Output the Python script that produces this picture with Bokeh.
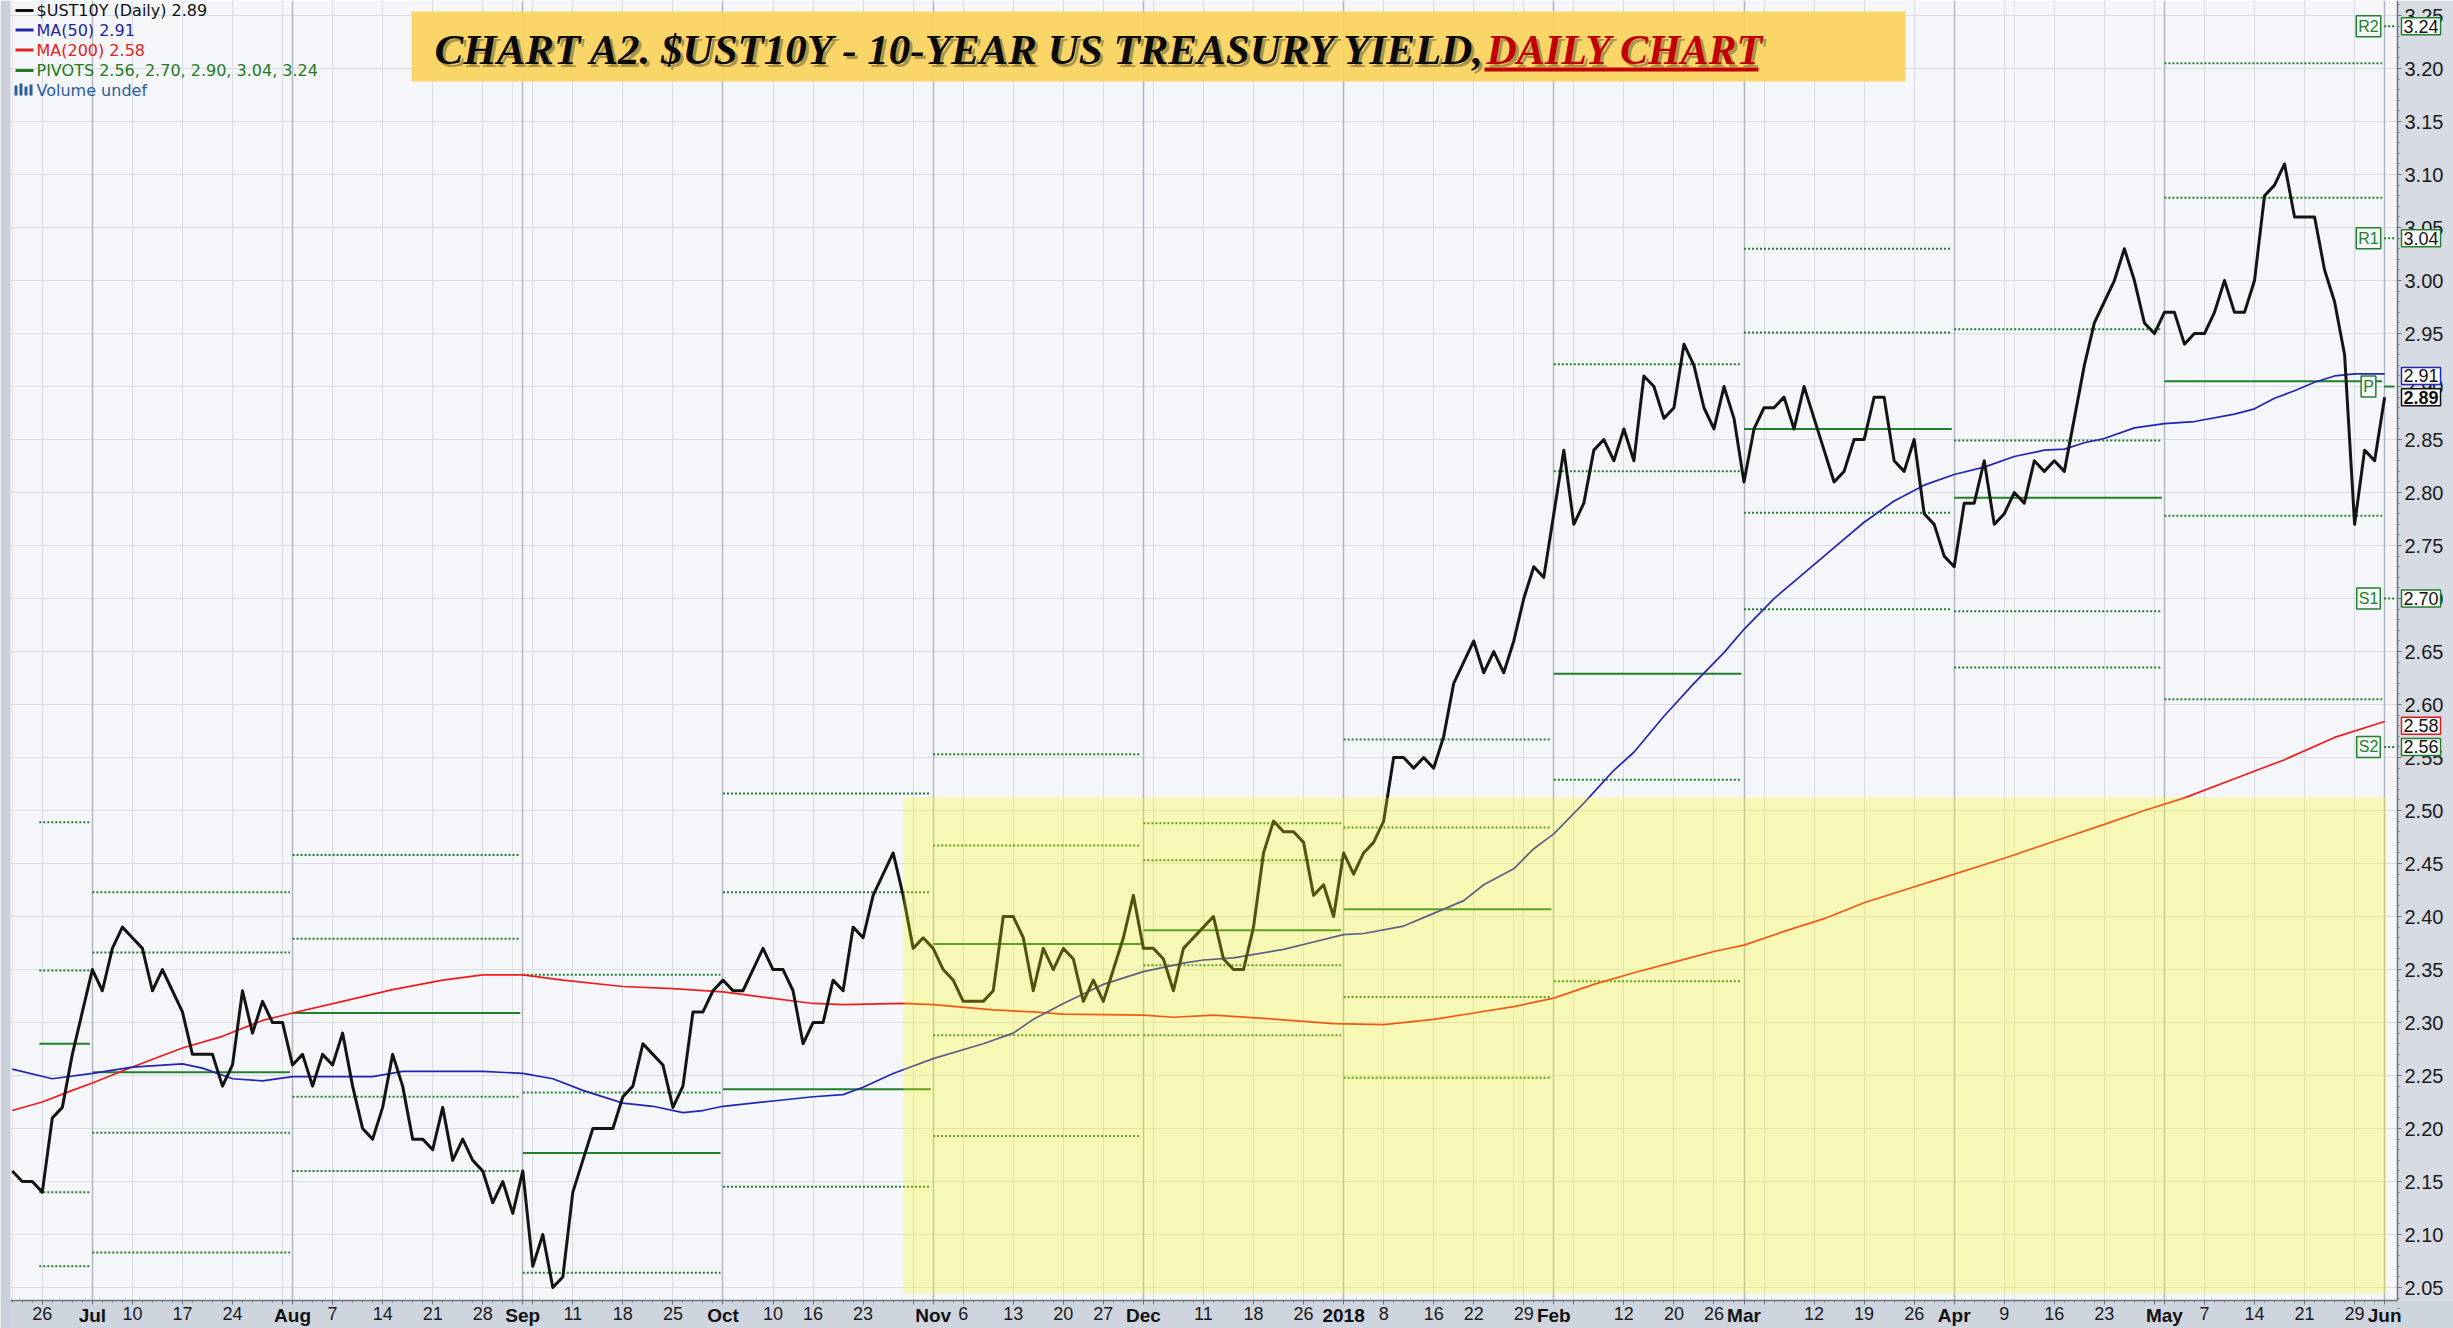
import numpy as np
import pandas as pd
from bokeh.plotting import figure
from bokeh.models import (Range1d, FixedTicker, Label, BoxAnnotation, Grid, LinearAxis,
                          PrintfTickFormatter)
from bokeh.embed import file_html
from bokeh.resources import INLINE

# ---------------- data ----------------
FIRST_SESSION = "2017-06-21"
LAST_SESSION = "2018-06-01"
MARKET_HOLIDAYS = ["2017-07-04", "2017-09-04", "2017-10-09", "2017-11-23", "2017-12-25",
                   "2018-01-01", "2018-01-15", "2018-02-19", "2018-03-30", "2018-05-28"]

# daily close of $UST10Y, one value per session
YIELD_10Y = [
    2.16, 2.15, 2.15,
    2.14, 2.21, 2.22, 2.27, 2.31, 2.35, 2.33, 2.37, 2.39, 2.38,
    2.37, 2.33, 2.35, 2.33, 2.31, 2.27, 2.27, 2.27, 2.24, 2.26,
    2.33, 2.29, 2.32, 2.30, 2.30, 2.26, 2.27, 2.24, 2.27, 2.26,
    2.29, 2.24, 2.20, 2.19, 2.22, 2.27, 2.24, 2.19, 2.19, 2.18,
    2.22, 2.17, 2.19, 2.17, 2.16, 2.13, 2.15, 2.12, 2.16, 2.07,
    2.10, 2.05, 2.06, 2.14, 2.17, 2.20, 2.20, 2.20, 2.23, 2.24,
    2.28, 2.27, 2.26, 2.22, 2.24, 2.31, 2.31, 2.33, 2.34, 2.33,
    2.33, 2.35, 2.37, 2.35, 2.35, 2.33, 2.28, 2.30, 2.30, 2.34,
    2.33, 2.39, 2.38, 2.42, 2.44, 2.46, 2.42, 2.37, 2.38, 2.37,
    2.35, 2.34, 2.32, 2.32, 2.32, 2.33, 2.40, 2.40, 2.38, 2.33,
    2.37, 2.35, 2.37, 2.36, 2.32, 2.34, 2.32, 2.35, 2.38, 2.42,
    2.37, 2.37, 2.36, 2.33, 2.37, 2.38, 2.39, 2.40, 2.36, 2.35,
    2.35, 2.39, 2.46, 2.49, 2.48, 2.48, 2.47, 2.42, 2.43, 2.40,
    2.46, 2.44, 2.46, 2.47, 2.49, 2.55, 2.55, 2.54, 2.55, 2.54,
    2.57, 2.62, 2.64, 2.66, 2.63, 2.65, 2.63, 2.66, 2.70, 2.73,
    2.72, 2.78, 2.84, 2.77, 2.79, 2.84, 2.85, 2.83, 2.86, 2.83,
    2.91, 2.90, 2.87, 2.88, 2.94, 2.92, 2.88, 2.86, 2.90, 2.87,
    2.81, 2.86, 2.88, 2.88, 2.89, 2.86, 2.90, 2.87, 2.84, 2.81,
    2.82, 2.85, 2.85, 2.89, 2.89, 2.83, 2.82, 2.85, 2.78, 2.77,
    2.74, 2.73, 2.79, 2.79, 2.83, 2.77, 2.78, 2.80, 2.79, 2.83,
    2.82, 2.83, 2.82, 2.87, 2.92, 2.96, 2.98, 3.00, 3.03, 3.00,
    2.96, 2.95, 2.97, 2.97, 2.94, 2.95, 2.95, 2.97, 3.00, 2.97,
    2.97, 3.00, 3.08, 3.09, 3.11, 3.06, 3.06, 3.06, 3.01, 2.98,
    2.93, 2.77, 2.84, 2.83, 2.89,
]

# moving averages (session number, value)
MA50_SESSION = [0, 4, 8, 12, 17, 19, 22, 25, 28, 32, 36, 39, 42, 47, 51, 54, 57, 61, 64, 67,
                69, 71, 76, 80, 83, 85, 88, 92, 97, 100, 102, 105, 107, 109, 113, 117, 119, 122, 127, 130,
                133, 135, 139, 142, 145, 147, 150, 152, 154, 157, 160, 162, 165, 168, 171, 173, 176, 179, 182, 185,
                188, 191, 194, 197, 200, 203, 205, 207, 209, 212, 215, 218, 222, 224, 226, 228, 230, 232, 234, 237]
MA50_VALUE = [2.256, 2.247, 2.252, 2.258, 2.261, 2.257, 2.247, 2.245, 2.249, 2.249,
              2.249, 2.254, 2.254, 2.254, 2.252, 2.247, 2.236, 2.224, 2.221, 2.215,
              2.217, 2.221, 2.226, 2.230, 2.232, 2.239, 2.252, 2.266, 2.280, 2.290,
              2.303, 2.318, 2.327, 2.336, 2.348, 2.356, 2.359, 2.361, 2.369, 2.376,
              2.383, 2.384, 2.391, 2.403, 2.415, 2.430, 2.445, 2.464, 2.478, 2.507,
              2.538, 2.555, 2.589, 2.620, 2.649, 2.671, 2.700, 2.724, 2.748, 2.772,
              2.792, 2.807, 2.817, 2.824, 2.834, 2.840, 2.841, 2.847, 2.851, 2.861,
              2.865, 2.867, 2.874, 2.879, 2.889, 2.896, 2.904, 2.910, 2.912, 2.912]
MA200_SESSION = [0, 3, 6, 8, 12, 17, 21, 25, 28, 33, 38, 43, 47, 51, 55, 61, 66, 71, 75, 80,
                 83, 89, 92, 98, 102, 105, 113, 116, 120, 125, 132, 137, 142, 146, 150, 154, 158, 162, 166, 170,
                 173, 177, 181, 185, 189, 193, 199, 204, 209, 213, 217, 222, 227, 232, 237]
MA200_VALUE = [2.217, 2.225, 2.236, 2.243, 2.258, 2.276, 2.287, 2.302, 2.309, 2.320,
               2.331, 2.340, 2.345, 2.345, 2.340, 2.334, 2.332, 2.329, 2.324, 2.318,
               2.317, 2.318, 2.317, 2.312, 2.310, 2.308, 2.307, 2.305, 2.307, 2.304,
               2.299, 2.298, 2.303, 2.309, 2.315, 2.323, 2.336, 2.347, 2.357, 2.367,
               2.373, 2.386, 2.398, 2.413, 2.425, 2.437, 2.455, 2.471, 2.487, 2.500,
               2.512, 2.530, 2.548, 2.569, 2.584]

# monthly pivot points
PIVOT_MONTH = ["2017-06", "2017-07", "2017-08", "2017-09", "2017-10", "2017-11", "2017-12",
               "2018-01", "2018-02", "2018-03", "2018-04", "2018-05", "2018-06"]
PIVOT_R2 = [2.489, 2.423, 2.458, 2.345, 2.516, 2.553, 2.488, 2.567, 2.921, 3.030, 2.954, 3.205, 3.24]
PIVOT_R1 = [2.349, 2.366, 2.379, 2.234, 2.423, 2.467, 2.453, 2.484, 2.820, 2.951, 2.849, 3.078, 3.04]
PIVOT_P = [2.280, 2.253, 2.309, 2.177, 2.237, 2.374, 2.387, 2.407, 2.629, 2.860, 2.795, 2.905, 2.90]
PIVOT_S1 = [2.140, 2.196, 2.230, 2.064, 2.145, 2.288, 2.354, 2.324, 2.529, 2.781, 2.688, 2.778, 2.70]
PIVOT_S2 = [2.070, 2.083, 2.160, None, None, 2.193, 2.288, 2.248, 2.339, 2.690, 2.635, 2.605, 2.56]

LAST_CLOSE = 2.89
LAST_MA50 = 2.91
LAST_MA200 = 2.58

MONTH_TICK_DATE = ["2017-07-03", "2017-08-01", "2017-09-01", "2017-10-02", "2017-11-01", "2017-12-01",
                   "2018-01-02", "2018-02-01", "2018-03-01", "2018-04-02", "2018-05-01", "2018-06-01"]
MONTH_TICK_LABEL = ["Jul", "Aug", "Sep", "Oct", "Nov", "Dec", "2018", "Feb", "Mar", "Apr", "May", "Jun"]
WEEK_TICK_DATE = ["2017-06-26", "2017-07-10", "2017-07-17", "2017-07-24", "2017-07-31", "2017-08-07",
                  "2017-08-14", "2017-08-21", "2017-08-28", "2017-09-05", "2017-09-11", "2017-09-18",
                  "2017-09-25", "2017-10-10", "2017-10-16", "2017-10-23", "2017-10-30", "2017-11-06",
                  "2017-11-13", "2017-11-20", "2017-11-27", "2017-12-04", "2017-12-11", "2017-12-18",
                  "2017-12-26", "2018-01-08", "2018-01-16", "2018-01-22", "2018-01-29", "2018-02-05",
                  "2018-02-12", "2018-02-20", "2018-02-26", "2018-03-05", "2018-03-12", "2018-03-19",
                  "2018-03-26", "2018-04-09", "2018-04-16", "2018-04-23", "2018-04-30", "2018-05-07",
                  "2018-05-14", "2018-05-21", "2018-05-29"]
WEEK_TICK_LABEL = ["26", "10", "17", "24", "", "7", "14", "21", "28", "", "11", "18",
                   "25", "10", "16", "23", "", "6", "13", "20", "27", "", "11", "18",
                   "26", "8", "16", "22", "29", "", "12", "20", "26", "", "12", "19",
                   "26", "9", "16", "23", "", "7", "14", "21", "29"]
Y_TICKS = [2.05, 2.10, 2.15, 2.20, 2.25, 2.30, 2.35, 2.40, 2.45, 2.50, 2.55, 2.60,
           2.65, 2.70, 2.75, 2.80, 2.85, 2.90, 2.95, 3.00, 3.05, 3.10, 3.15, 3.20, 3.25]

TITLE_MAIN = "CHART A2. $UST10Y - 10-YEAR US TREASURY YIELD,"
TITLE_RED = "DAILY CHART"

# ---------------- layout constants ----------------
W, H = 2453, 1328
PLOT_LEFT_PX = 10       # left edge of the chart area
PLOT_RIGHT_PX = 2397    # price scale line
PLOT_BOTTOM_PX = 1300   # time axis line
PX_PER_DAY = 10.01
PX_PER_UNIT = 1060.0
X0 = -0.177             # session number at PLOT_LEFT_PX
Y1 = 3.2642             # yield at the top pixel row


def fx(px):
    return X0 + (px - PLOT_LEFT_PX) / PX_PER_DAY


def fy(py):
    return Y1 - py / PX_PER_UNIT


XL, XR = fx(0), fx(W)
YB = fy(H)

sessions = pd.bdate_range(FIRST_SESSION, LAST_SESSION)
sessions = sessions[~sessions.isin(pd.to_datetime(MARKET_HOLIDAYS))]
day_of = {d.strftime("%Y-%m-%d"): k for k, d in enumerate(sessions)}
xs = np.arange(len(sessions))

month_ks = [day_of[d] for d in MONTH_TICK_DATE]
week_ks = [day_of[d] for d in WEEK_TICK_DATE]

GREEN = "#23802a"
BG = "#f4f6fa"
PANEL = "#d6dbe4"
AXIS_COL = "#6d727b"

p = figure(width=W, height=H, x_range=Range1d(XL, XR), y_range=Range1d(YB, Y1),
           output_backend="svg", toolbar_location=None,
           x_axis_location=None, y_axis_location=None,
           min_border_left=0, min_border_right=0, min_border_top=0, min_border_bottom=0,
           background_fill_color=BG, border_fill_color=PANEL, outline_line_color=None)

# grids
p.add_layout(Grid(dimension=0, ticker=FixedTicker(ticks=week_ks), grid_line_color="#d9dce3"))
p.add_layout(Grid(dimension=1, ticker=FixedTicker(ticks=Y_TICKS), grid_line_color="#d9dce3"))
p.add_layout(Grid(dimension=0, ticker=FixedTicker(ticks=month_ks),
                  grid_line_color="#b3b7c0", grid_line_width=1.5))

# pivot segments
seg_start = []
for m in PIVOT_MONTH:
    seg_start.append(int(np.searchsorted(sessions, pd.Timestamp(m + "-01"))))
seg_start[0] = week_ks[0] - 0.3
seg_end = [s - 0.25 for s in seg_start[1:]] + [fx(2394)]
seg_start[-1] = seg_end[-2] + 0.2


def pivot_segments(values, dash, width):
    x0, x1, yv = [], [], []
    for a, b, v in zip(seg_start, seg_end, values):
        if v is None:
            continue
        x0.append(a)
        x1.append(b)
        yv.append(v)
    p.segment(x0=x0, y0=yv, x1=x1, y1=yv, line_color=GREEN, line_width=width, line_dash=dash)


for vals in (PIVOT_R2, PIVOT_R1, PIVOT_S1, PIVOT_S2):
    pivot_segments(vals, "2 2", 2)
pivot_segments(PIVOT_P, "solid", 2)

# moving averages and price
p.line(MA200_SESSION, MA200_VALUE, line_color="#ee1c1c", line_width=1.7)
p.line(MA50_SESSION, MA50_VALUE, line_color="#2424b4", line_width=1.7)
p.line(xs, YIELD_10Y, line_color="#141414", line_width=3, line_join="round")

# scale panels (right price scale, bottom time scale, thin left border)
p.quad(left=[fx(PLOT_RIGHT_PX), XL, XL], right=[XR, XR, fx(PLOT_LEFT_PX)],
       bottom=[YB, YB, YB], top=[Y1, fy(PLOT_BOTTOM_PX), Y1],
       fill_color=[PANEL, "#cfd5df", "#c9d0dc"], line_color=None)

# axes drawn at fixed positions
yax = LinearAxis(fixed_location=fx(PLOT_RIGHT_PX), bounds=(fy(PLOT_BOTTOM_PX), Y1))
yax.ticker = FixedTicker(ticks=Y_TICKS, minor_ticks=[round(2.03 + 0.01 * j, 2) for j in range(125)])
yax.formatter = PrintfTickFormatter(format="%.2f")
xax = LinearAxis(fixed_location=fy(PLOT_BOTTOM_PX), bounds=(fx(PLOT_LEFT_PX), fx(PLOT_RIGHT_PX)))
xax.ticker = FixedTicker(ticks=sorted(week_ks + month_ks), minor_ticks=list(xs))
overrides = {k: lab for k, lab in zip(week_ks, WEEK_TICK_LABEL)}
overrides.update({k: "" for k in month_ks})
xax.major_label_overrides = overrides
for ax, size, standoff in ((yax, "20px", 3), (xax, "18px", 2)):
    ax.axis_line_color = AXIS_COL
    ax.axis_line_width = 1.5
    ax.major_tick_line_color = AXIS_COL
    ax.minor_tick_line_color = AXIS_COL
    ax.major_tick_in = 0
    ax.major_tick_out = 4
    ax.minor_tick_in = 0
    ax.minor_tick_out = 2
    ax.major_label_standoff = standoff
    ax.major_label_text_font = "Liberation Sans"
    ax.major_label_text_font_size = size
    ax.major_label_text_color = "#1a1a1a"
p.add_layout(yax, "right")
p.add_layout(xax, "below")

# highlighted zone
p.add_layout(BoxAnnotation(left=fx(903), right=fx(2386), bottom=fy(1293), top=fy(797),
                           fill_color="#ffff00", fill_alpha=0.27, line_color=None))

# title banner
p.add_layout(BoxAnnotation(left=fx(411), right=fx(1905), bottom=fy(81), top=fy(11),
                           fill_color="#f9d45f", fill_alpha=0.95, line_color=None))
TFONT = "Liberation Serif"
for dx, dy, col, alpha in ((3, 3, "#6a5a30", 0.55), (0, 0, "#0a0a0a", 1.0)):
    p.add_layout(Label(x=fx(434 + dx), y=fy(49 + dy), text=TITLE_MAIN, text_font=TFONT,
                       text_font_size="43px", text_font_style="bold italic", text_color=col,
                       text_alpha=alpha, text_align="left", text_baseline="middle"))
for dx, dy, col, alpha in ((3, 3, "#6a5a30", 0.55), (0, 0, "#c00000", 1.0)):
    p.add_layout(Label(x=fx(1486 + dx), y=fy(49 + dy), text=TITLE_RED, text_font=TFONT,
                       text_font_size="42px", text_font_style="bold italic", text_color=col,
                       text_alpha=alpha, text_align="left", text_baseline="middle"))
p.add_layout(BoxAnnotation(left=fx(1484), right=fx(1758), bottom=fy(71), top=fy(67),
                           fill_color="#c00000", fill_alpha=1, line_color=None))

# legend (top-left)
june_pivots = sorted([PIVOT_S2[-1], PIVOT_S1[-1], PIVOT_P[-1], PIVOT_R1[-1], PIVOT_R2[-1]])
legend_items = [
    (f"$UST10Y (Daily) {LAST_CLOSE:.2f}", "#111111", 10),
    (f"MA(50) {LAST_MA50:.2f}", "#2424a8", 29.5),
    (f"MA(200) {LAST_MA200:.2f}", "#e52020", 49.5),
    ("PIVOTS " + ", ".join(f"{v:.2f}" for v in june_pivots), "#1f7a22", 70),
    ("Volume undef", "#2b5c9c", 89.5),
]
for txt, col, py in legend_items:
    p.add_layout(Label(x=fx(36), y=fy(py), text=txt, text_font="DejaVu Sans",
                       text_font_size="16px", text_color=col, text_align="left",
                       text_baseline="middle"))
for txt, col, py in legend_items[:4]:
    p.segment(x0=[fx(15)], y0=[fy(py)], x1=[fx(33)], y1=[fy(py)], line_color=col, line_width=3)
p.quad(left=[fx(14), fx(19), fx(24), fx(29)], right=[fx(17), fx(22), fx(27), fx(32)],
       top=[fy(85), fy(83), fy(86), fy(84)], bottom=[fy(95)] * 4, fill_color="#2b5c9c",
       line_color=None)

# bold month labels on the time axis
for k, lab in zip(month_ks, MONTH_TICK_LABEL):
    p.add_layout(Label(x=k, y=fy(1315), text=lab, text_font="Liberation Sans",
                       text_font_style="bold", text_font_size="19px", text_color="#111111",
                       text_align="center", text_baseline="middle"))

# pivot tags inside the plot
for name, v in (("R2", PIVOT_R2[-1]), ("R1", PIVOT_R1[-1]), ("P", PIVOT_P[-1]),
                ("S1", PIVOT_S1[-1]), ("S2", PIVOT_S2[-1])):
    p.add_layout(Label(x=fx(2368), y=v, text=name, text_font="Liberation Sans",
                       text_font_size="16px", text_color=GREEN, text_align="center",
                       text_baseline="middle", background_fill_color=BG,
                       border_line_color=GREEN, border_line_width=1.5, padding=2))

# value boxes on the price scale
value_tags = [(PIVOT_R2[-1], GREEN, "normal"), (PIVOT_R1[-1], GREEN, "normal"),
              (PIVOT_S1[-1], GREEN, "normal"), (PIVOT_S2[-1], GREEN, "normal"),
              (LAST_MA200, "#e01818", "normal"), (LAST_MA50, "#2424b4", "normal"),
              (LAST_CLOSE, "#111111", "bold")]
for v, col, style in value_tags:
    p.add_layout(Label(x=fx(2401), y=v, text=f"{v:.2f}", text_font="Liberation Sans",
                       text_font_size="18px", text_font_style=style, text_color="#111111",
                       text_align="left", text_baseline="middle", background_fill_color="white",
                       border_line_color=col, border_line_width=1.5, padding=2))

open("out.html", "w").write(file_html(p, INLINE))
